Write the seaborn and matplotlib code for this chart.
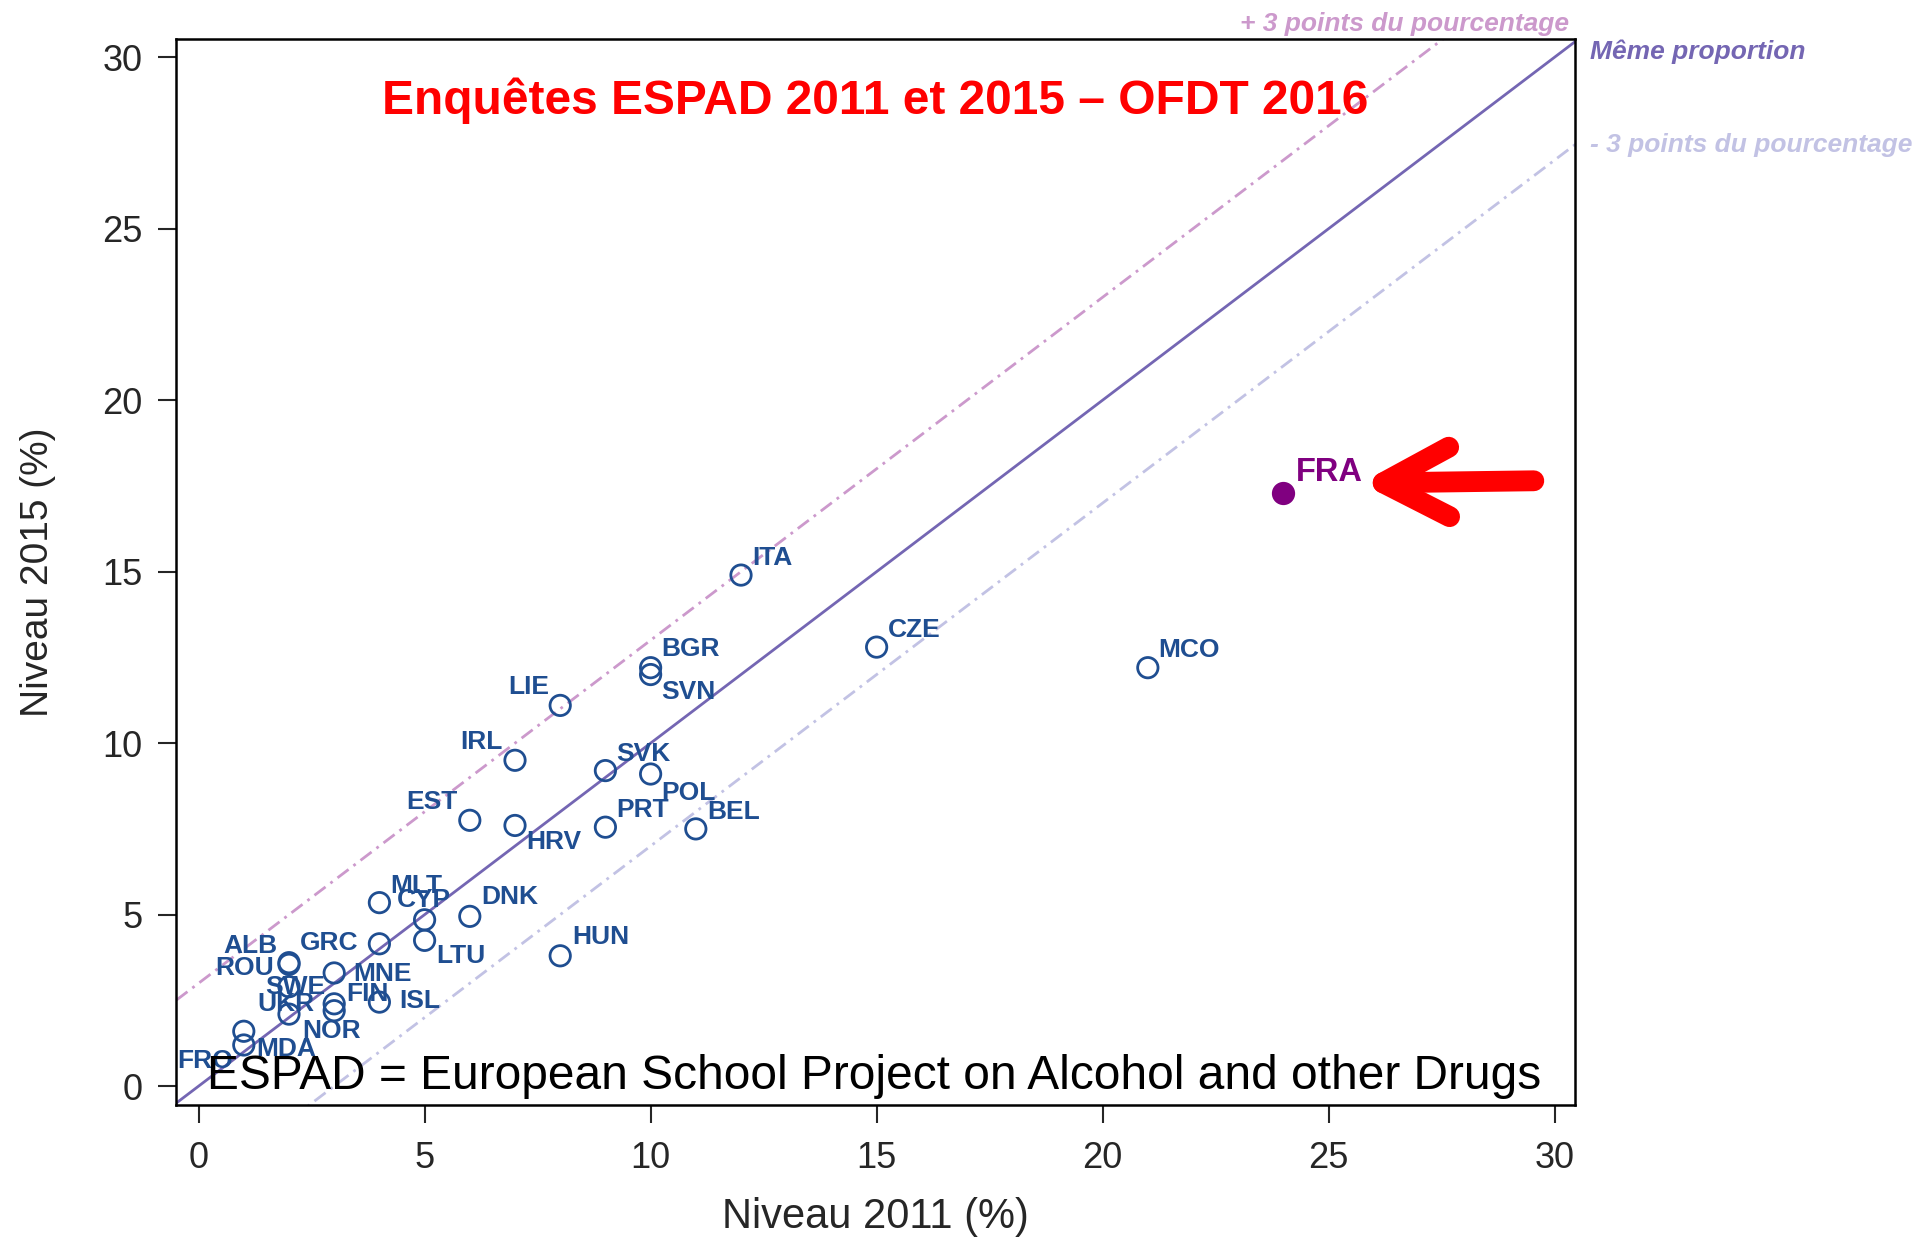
import numpy as np
import pandas as pd
import matplotlib
matplotlib.use("Agg")
import matplotlib.pyplot as plt
import seaborn as sns

# ESPAD 2011 vs 2015 (%)
countries = ["ITA", "CZE", "MCO", "BGR", "SVN", "LIE", "IRL", "SVK", "POL", "EST",
             "HRV", "PRT", "BEL", "MLT", "CYP", "DNK", "GRC", "LTU", "HUN", "ALB",
             "ROU", "MNE", "SWE", "FIN", "NOR", "ISL", "UKR", "FRO", "MDA"]
niveau_2011 = [12, 15, 21, 10, 10, 8, 7, 9, 10, 6,
               7, 9, 11, 4, 5, 6, 4, 5, 8, 2,
               2, 3, 2, 3, 3, 4, 2, 1, 1]
niveau_2015 = [14.9, 12.8, 12.2, 12.2, 12.0, 11.1, 9.5, 9.2, 9.1, 7.75,
               7.6, 7.55, 7.5, 5.35, 4.85, 4.95, 4.15, 4.25, 3.8, 3.6,
               3.55, 3.3, 2.9, 2.4, 2.2, 2.45, 2.1, 1.6, 1.2]
fra_2011 = [24]
fra_2015 = [17.3]

ref_offsets = [3, 0, -3]
ref_labels = ["+ 3 points du pourcentage", "Même proportion", "- 3 points du pourcentage"]
ticks = [0, 5, 10, 15, 20, 25, 30]

# label placement (pixels from the point: dx, dy to baseline, alignment)
label_pos = {
    "ITA": (11, 10, "left"), "CZE": (11, 10, "left"), "MCO": (10, 11, "left"),
    "BGR": (11, 12, "left"), "SVN": (11, -24, "left"), "LIE": (-11, 11, "right"),
    "IRL": (-12, 11, "right"), "SVK": (11, 10, "left"), "POL": (11, -26, "left"),
    "EST": (-12, 11, "right"), "HRV": (11, -24, "left"), "PRT": (11, 10, "left"),
    "BEL": (11, 10, "left"), "MLT": (11, 10, "left"), "CYP": (-28, 13, "left"),
    "DNK": (11, 12, "left"), "GRC": (-21, -6, "right"), "LTU": (12, -23, "left"),
    "HUN": (12, 12, "left"), "ALB": (-12, 10, "right"), "ROU": (-15, -11, "right"),
    "MNE": (19, -8, "left"), "SWE": (-24, -7, "left"), "FIN": (12, 3, "left"),
    "NOR": (-32, -27, "left"), "ISL": (20, -6, "left"), "UKR": (-32, 3, "left"),
    "FRO": (-67, -37, "left"), "MDA": (12, -11, "left"),
}

BLUE = "#1f4e91"
PURPLE = "#800080"
LINE_COLORS = ["#cc99cc", "#7466b3", "#c2c2e4"]

sns.set_style("ticks")
plt.rcParams["font.family"] = ["Liberation Sans", "DejaVu Sans"]

df = pd.DataFrame({"pays": countries, "n2011": niveau_2011, "n2015": niveau_2015})

fig = plt.figure(figsize=(19.17, 12.37), dpi=100)
ax = fig.add_axes([0.0918, 0.1067, 0.7298, 0.8618])
XLIM = (-0.5, 30.45)
YLIM = (-0.55, 30.53)

# reference lines
xs = np.array([-1, 31])
dash = (0, (5, 2.2, 1, 2.2))
for off, col in zip(ref_offsets, LINE_COLORS):
    ax.plot(xs, xs + off, color=col, lw=2.0,
            linestyle="-" if off == 0 else dash, zorder=1)

sns.scatterplot(data=df, x="n2011", y="n2015", ax=ax, s=215, marker="o",
                facecolor="none", edgecolor=BLUE, linewidth=2.0, zorder=3)
sns.scatterplot(x=fra_2011, y=fra_2015, ax=ax, s=240, color=PURPLE,
                edgecolor=PURPLE, zorder=3)

for name, x, y in zip(countries, niveau_2011, niveau_2015):
    dx, dy, ha = label_pos[name]
    ax.annotate(name, (x, y), xytext=(dx, dy), textcoords="offset pixels",
                ha=ha, va="baseline", fontsize=19, fontweight="bold",
                color=BLUE, zorder=4)
ax.annotate("FRA", (fra_2011[0], fra_2015[0]), xytext=(12, 12),
            textcoords="offset pixels", ha="left", va="baseline",
            fontsize=23.5, fontweight="bold", color=PURPLE)

# red arrow pointing at France
ax.annotate("", xy=(25.65, 17.58), xytext=(29.6, 17.65),
            arrowprops=dict(arrowstyle="->, head_length=0.95, head_width=0.5",
                            mutation_scale=50, lw=15, color="#ff0000",
                            capstyle="round", joinstyle="round"))

ax.text(0.5, 0.93, "Enquêtes ESPAD 2011 et 2015 – OFDT 2016", transform=ax.transAxes,
        ha="center", va="baseline", fontsize=34.5, fontweight="bold", color="#ff0000")
ax.text(0.022, 0.015, "ESPAD = European School Project on Alcohol and other Drugs",
        transform=ax.transAxes, ha="left", va="baseline", fontsize=34.5, color="black",
        zorder=5)

fig.text(1569 / 1917, 1 - 31 / 1237, ref_labels[0], ha="right", va="baseline",
         fontsize=19, fontweight="bold", style="italic", color=LINE_COLORS[0])
fig.text(1590 / 1917, 1 - 59 / 1237, ref_labels[1], ha="left", va="baseline",
         fontsize=19, fontweight="bold", style="italic", color=LINE_COLORS[1])
fig.text(1590 / 1917, 1 - 152 / 1237, ref_labels[2], ha="left", va="baseline",
         fontsize=19, fontweight="bold", style="italic", color=LINE_COLORS[2])

ax.set_xlim(XLIM)
ax.set_ylim(YLIM)
ax.set_xticks(ticks)
ax.set_yticks(ticks)
ax.tick_params(axis="both", direction="out", length=13, width=1.5, labelsize=26)
ax.tick_params(axis="x", pad=13)
ax.tick_params(axis="y", pad=11)
for sp in ax.spines.values():
    sp.set_visible(True)
    sp.set_linewidth(1.8)
    sp.set_color("black")
ax.set_xlabel("Niveau 2011 (%)", fontsize=30, labelpad=15)
ax.set_ylabel("Niveau 2015 (%)", fontsize=28, labelpad=33)

fig.savefig("out.png", dpi=100)
